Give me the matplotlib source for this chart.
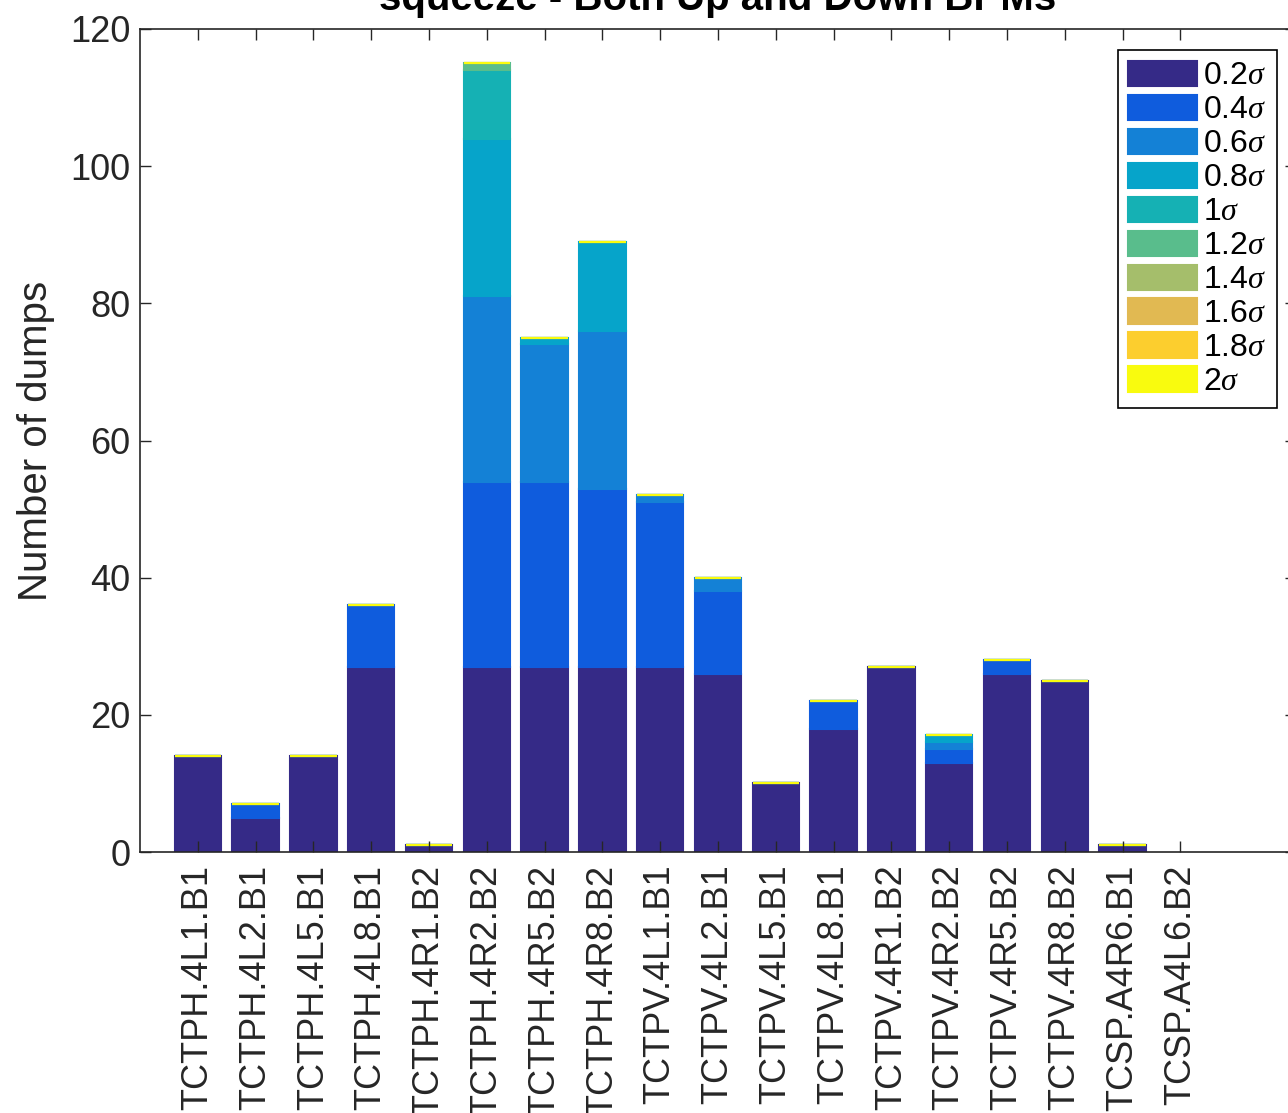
#!/usr/bin/env python3
"""
Stacked bar chart of dumps per collimator, split by BPM offset threshold.
"""
import matplotlib
matplotlib.use("Agg")
import numpy as np
import matplotlib.pyplot as plt

plt.rcParams["font.family"] = ["Liberation Sans", "DejaVu Sans"]
plt.rcParams["mathtext.fontset"] = "custom"
plt.rcParams["mathtext.it"] = "Liberation Serif:italic"
plt.rcParams["mathtext.rm"] = "Liberation Sans"

collimators = ["TCTPH.4L1.B1", "TCTPH.4L2.B1", "TCTPH.4L5.B1", "TCTPH.4L8.B1",
               "TCTPH.4R1.B2", "TCTPH.4R2.B2", "TCTPH.4R5.B2", "TCTPH.4R8.B2",
               "TCTPV.4L1.B1", "TCTPV.4L2.B1", "TCTPV.4L5.B1", "TCTPV.4L8.B1",
               "TCTPV.4R1.B2", "TCTPV.4R2.B2", "TCTPV.4R5.B2", "TCTPV.4R8.B2",
               "TCSP.A4R6.B1", "TCSP.A4L6.B2"]
thresholds = ["0.2", "0.4", "0.6", "0.8", "1", "1.2", "1.4", "1.6", "1.8", "2"]

s02 = [14, 5, 14, 27, 1, 27, 27, 27, 27, 26, 10, 18, 27, 13, 26, 25, 1, 0]
s04 = [0, 2, 0, 9, 0, 27, 27, 26, 24, 12, 0, 4, 0, 2, 2, 0, 0, 0]
s06 = [0, 0, 0, 0, 0, 27, 20, 23, 1, 2, 0, 0, 0, 1, 0, 0, 0, 0]
s08 = [0, 0, 0, 0, 0, 23, 1, 13, 0, 0, 0, 0, 0, 1, 0, 0, 0, 0]
s10 = [0, 0, 0, 0, 0, 10, 0, 0, 0, 0, 0, 0, 0, 0, 0, 0, 0, 0]
s12 = [0, 0, 0, 0, 0, 1, 0, 0, 0, 0, 0, 0, 0, 0, 0, 0, 0, 0]
s14 = [0] * 18
s16 = [0] * 18
s18 = [0] * 18
s20 = [0] * 18
series = [s02, s04, s06, s08, s10, s12, s14, s16, s18, s20]

# parula-like palette
colors = ["#352A87", "#0F5CDD", "#1481D6", "#06A4CA", "#15B1B4",
          "#59BD8C", "#A5BE6B", "#E1B952", "#FCCE2E", "#F9FB0E"]

AX_COLOR = "#262626"

fig = plt.figure(figsize=(12.88, 11.13), dpi=100)
ax = fig.add_axes([140 / 1288, 1 - 852 / 1113, 1156 / 1288, 823 / 1113])

x = np.arange(1, len(collimators) + 1)
bottom = np.zeros(len(collimators))
for vals, thr, col in zip(series, thresholds, colors):
    vals = np.array(vals, dtype=float)
    # zero-height segments still show as a thin line on top (MATLAB look),
    # except for empty bars sitting on the axis
    lw = np.where((vals == 0) & (bottom == 0), 0.0, 1.5)
    ax.bar(x, vals, width=0.8, bottom=bottom, color=col, edgecolor=col,
           linewidth=lw, label=f"{thr}$\\sigma$")
    bottom += vals

ax.set_xlim(0, 20)
ax.set_ylim(0, 120)
ax.set_yticks(np.arange(0, 121, 20))
ax.set_xticks(x)
ax.set_xticklabels(collimators, rotation=90, va="top", ha="center")

ax.tick_params(axis="both", direction="in", length=8, width=1.0,
               colors=AX_COLOR, labelsize=26, top=True, right=True)
ax.tick_params(axis="x", pad=9)
ax.tick_params(axis="y", pad=7)
for sp in ax.spines.values():
    sp.set_color(AX_COLOR)
    sp.set_linewidth(1.2)

ax.set_ylabel("Number of dumps", fontsize=29, color=AX_COLOR, labelpad=11)
ax.set_title("squeeze - Both Up and Down BPMs", fontsize=29,
             fontweight="bold", color="black", pad=13.5)

leg = ax.legend(loc="upper right", bbox_to_anchor=(1277 / 1288, 1 - 50 / 1113),
                bbox_transform=fig.transFigure, borderaxespad=0,
                fontsize=23, fancybox=False, framealpha=1,
                edgecolor="black", handlelength=2.15, handleheight=0.85,
                handletextpad=0.2, labelspacing=0.1, borderpad=0.33)
leg.get_frame().set_linewidth(1.2)

fig.savefig("out.png", dpi=100)
